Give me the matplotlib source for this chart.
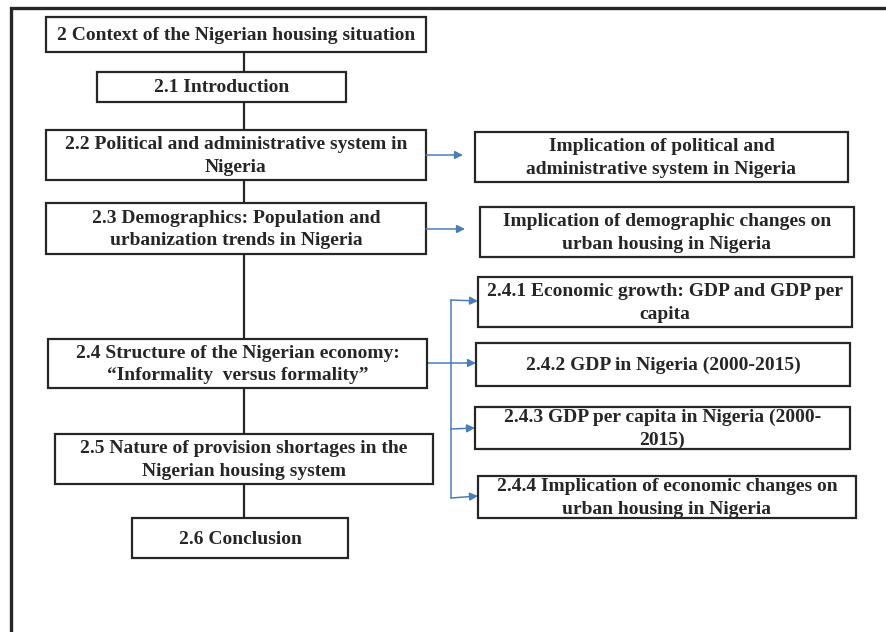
"""Chapter 2 structure flowchart (Nigerian housing context)."""
import matplotlib; matplotlib.use("Agg")
import matplotlib.pyplot as plt
from matplotlib.patches import Rectangle

# ---- content ----
main_labels = [
    "2 Context of the Nigerian housing situation",
    "2.1 Introduction",
    "2.2 Political and administrative system in\nNigeria",
    "2.3 Demographics: Population and\nurbanization trends in Nigeria",
    "2.4 Structure of the Nigerian economy:\n\u201cInformality  versus formality\u201d",
    "2.5 Nature of provision shortages in the\nNigerian housing system",
    "2.6 Conclusion",
]
side_labels = [
    "Implication of political and\nadministrative system in Nigeria",
    "Implication of demographic changes on\nurban housing in Nigeria",
]
sub_labels = [
    "2.4.1 Economic growth: GDP and GDP per\ncapita",
    "2.4.2 GDP in Nigeria (2000-2015)",
    "2.4.3 GDP per capita in Nigeria (2000-\n2015)",
    "2.4.4 Implication of economic changes on\nurban housing in Nigeria",
]

# ---- layout (pixel coords, y down): x0, y0, x1, y1 ----
main_pos = [(46, 17, 426, 52), (97, 72, 346, 102), (46, 130, 426, 180),
            (46, 203, 426, 254), (48, 339, 427, 388), (55, 434, 433, 484),
            (132, 518, 348, 558)]
side_pos = [(475, 132, 848, 182), (480, 207, 854, 257)]
sub_pos = [(478, 277, 852, 327), (476, 343, 850, 386),
           (475, 407, 850, 449), (478, 476, 856, 518)]

INK = "#262626"; BLUE = "#4a7ebb"
FONT = dict(family="Liberation Serif", weight="bold", size=14, color=INK)

W, H = 887, 632
fig = plt.figure(figsize=(W / 100, H / 100), dpi=100)
ax = fig.add_axes([0, 0, 1, 1]); ax.set_xlim(0, W); ax.set_ylim(H, 0); ax.axis("off")

# outer frame (only top and left edges visible)
ax.plot([11, 11, W], [H, 8, 8], color=INK, lw=2.4, solid_joinstyle="miter")

def box(p, txt):
    x0, y0, x1, y1 = p
    ax.add_patch(Rectangle((x0, y0), x1 - x0, y1 - y0, fc="white", ec=INK, lw=1.6, zorder=3))
    ax.text((x0 + x1) / 2, (y0 + y1) / 2 + 1, txt, ha="center", va="center",
            linespacing=1.4, zorder=4, **FONT)

def arrow(x1, y1, x2, y2):
    ax.annotate("", xy=(x2, y2), xytext=(x1, y1),
                arrowprops=dict(arrowstyle="-|>", lw=1.1, color=BLUE,
                                mutation_scale=12, shrinkA=0, shrinkB=0))

# black spine connectors between main boxes
for a, b in zip(main_pos[:-1], main_pos[1:]):
    ax.plot([244, 244], [a[3], b[1]], color=INK, lw=1.6, zorder=2)

for p, t in zip(main_pos, main_labels): box(p, t)
for p, t in zip(side_pos, side_labels): box(p, t)
for p, t in zip(sub_pos, sub_labels): box(p, t)

# blue links to implication boxes
arrow(426, 155, 463, 155)
arrow(426, 229, 465, 229)

# blue bracket from 2.4 to its sub-sections
bx = 451
ax.plot([427, bx], [363, 363], color=BLUE, lw=1.1)
ax.plot([bx, bx], [300, 498], color=BLUE, lw=1.1)
arrow(bx, 300, sub_pos[0][0], 301)
arrow(bx, 363, sub_pos[1][0], 363)
arrow(bx, 429, sub_pos[2][0], 428)
arrow(bx, 498, sub_pos[3][0], 496)

fig.savefig("out.png", dpi=100)
